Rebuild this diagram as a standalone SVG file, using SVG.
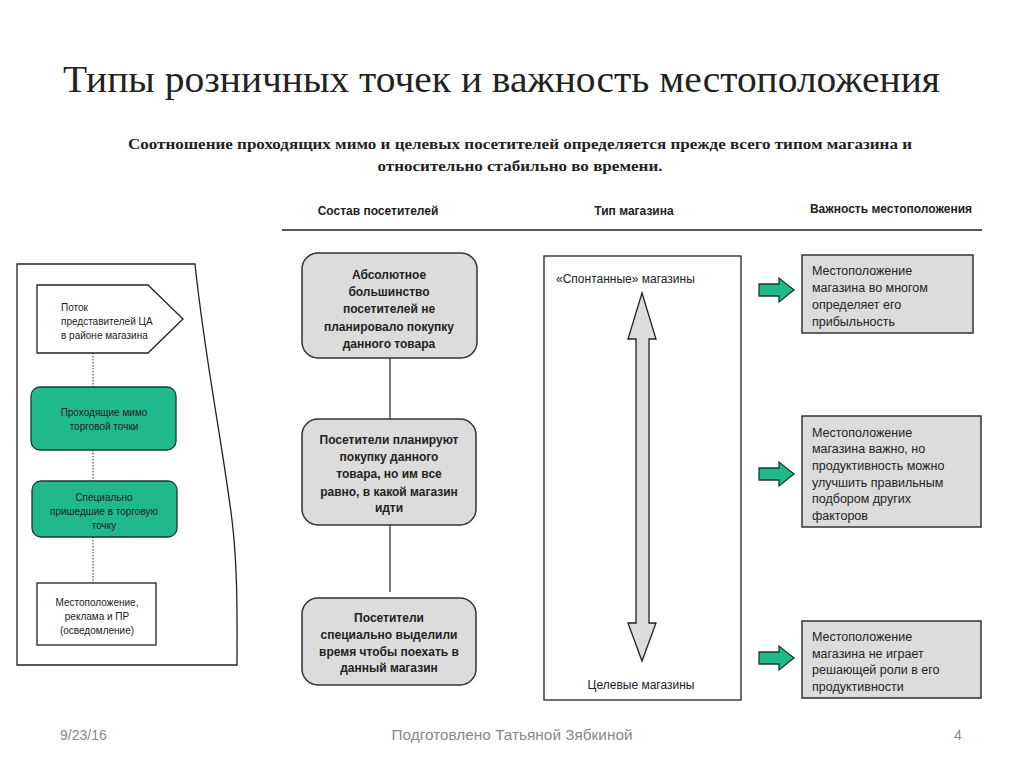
<svg xmlns="http://www.w3.org/2000/svg" width="1024" height="768" viewBox="0 0 1024 768">
<style>
.t{font-family:"Liberation Sans","DejaVu Sans",sans-serif;fill:#222}
.s10{font-size:10px}
.s12{font-size:12px}
.r12{font-size:12.5px}
.b{font-weight:bold}
.c{text-anchor:middle}
.green{fill:#1fb98b;stroke:#1a3a2c;stroke-width:1.3}
.gray{fill:#dcdcdc;stroke:#333;stroke-width:1.5}
.white{fill:#fff;stroke:#222;stroke-width:1.3}
.dot{stroke:#555;stroke-width:1.2;stroke-dasharray:1.5 1.5;fill:none}
.solid{stroke:#333;stroke-width:1.3;fill:none}
.foot{font-family:"Liberation Sans",sans-serif;font-size:14px;fill:#888}
</style>
<defs>
<polygon id="garrow" points="0,-6 20,-6 20,-12 35,0 20,12 20,6 0,6" fill="#1fb98b" stroke="#1a3a2c" stroke-width="1.3"/>
</defs>
<rect width="1024" height="768" fill="#fff"/>
<text x="63" y="92" font-family="Liberation Serif,serif" font-size="37" fill="#222" textLength="877" lengthAdjust="spacingAndGlyphs">Типы розничных точек и важность местоположения</text>
<text class="c" x="520" y="149" font-family="Liberation Serif,serif" font-size="15" font-weight="bold" fill="#222" textLength="784" lengthAdjust="spacingAndGlyphs">Соотношение проходящих мимо и целевых посетителей определяется прежде всего типом магазина и</text>
<text class="c" x="520" y="171" font-family="Liberation Serif,serif" font-size="15" font-weight="bold" fill="#222" textLength="285" lengthAdjust="spacingAndGlyphs">относительно стабильно во времени.</text>

<text class="t s12 b c" x="378" y="215">Состав посетителей</text>
<text class="t s12 b c" x="634" y="215">Тип магазина</text>
<text class="t s12 b c" x="891" y="213">Важность местоположения</text>
<line x1="282" y1="230" x2="982" y2="230" stroke="#222" stroke-width="1.5"/>

<g id="left-panel">
<path d="M17,264 L195,264 C205,360 222,440 232,520 C238,570 237,620 237,665 L17,665 Z" fill="#fff" stroke="#222" stroke-width="1.3"/>
</g>

<g id="connectors">
<line class="dot" x1="93" y1="353" x2="93" y2="387"/>
<line class="dot" x1="93" y1="450" x2="93" y2="481"/>
<line class="dot" x1="93" y1="537" x2="93" y2="583"/>
<line class="solid" x1="390" y1="358" x2="390" y2="419"/>
<line class="solid" x1="390" y1="525" x2="390" y2="592"/>
</g>

<g id="node-flow">
<polygon class="white" points="37,285 148,285 183,319 148,353 37,353"/>
<text class="t s10" x="61" y="311">Поток</text>
<text class="t s10" x="61" y="325">представителей ЦА</text>
<text class="t s10" x="61" y="339">в районе магазина</text>
</g>
<g id="node-passing">
<rect class="green" x="31" y="387" width="145" height="63" rx="9"/>
<text class="t s10 c" x="104" y="416">Проходящие мимо</text>
<text class="t s10 c" x="104" y="430">торговой точки</text>
</g>
<g id="node-special">
<rect class="green" x="32" y="481" width="145" height="56" rx="9"/>
<text class="t s10 c" x="104" y="501">Специально</text>
<text class="t s10 c" x="104" y="515">пришедшие в торговую</text>
<text class="t s10 c" x="104" y="529">точку</text>
</g>
<g id="node-location">
<rect class="white" x="37" y="583" width="119" height="62"/>
<text class="t s10 c" x="97" y="606">Местоположение,</text>
<text class="t s10 c" x="97" y="620">реклама и ПР</text>
<text class="t s10 c" x="97" y="634">(осведомление)</text>
</g>

<g id="node-v1">
<rect class="gray" x="302" y="253" width="175" height="105" rx="16"/>
<text class="t s12 b c" x="389" y="279">Абсолютное</text>
<text class="t s12 b c" x="389" y="296">большинство</text>
<text class="t s12 b c" x="389" y="313">посетителей не</text>
<text class="t s12 b c" x="389" y="331">планировало покупку</text>
<text class="t s12 b c" x="389" y="348">данного товара</text>
</g>
<g id="node-v2">
<rect class="gray" x="302" y="419" width="174" height="106" rx="16"/>
<text class="t s12 b c" x="389" y="444">Посетители планируют</text>
<text class="t s12 b c" x="389" y="461">покупку данного</text>
<text class="t s12 b c" x="389" y="478">товара, но им все</text>
<text class="t s12 b c" x="389" y="496">равно, в какой магазин</text>
<text class="t s12 b c" x="389" y="512">идти</text>
</g>
<g id="node-v3">
<rect class="gray" x="302" y="598" width="174" height="87" rx="16"/>
<text class="t s12 b c" x="389" y="622">Посетители</text>
<text class="t s12 b c" x="389" y="639">специально выделили</text>
<text class="t s12 b c" x="389" y="656">время чтобы поехать в</text>
<text class="t s12 b c" x="389" y="672">данный магазин</text>
</g>

<g id="node-type">
<rect x="544" y="256" width="197" height="444" fill="#fff" stroke="#222" stroke-width="1.3"/>
<text class="t s12" x="556" y="283">«Спонтанные» магазины</text>
<text class="t s12 c" x="641" y="689">Целевые магазины</text>
<polygon points="642,293 656,339 649,339 649,623 656,623 642,661 628,623 636,623 636,339 628,339" fill="#dcdcdc" stroke="#222" stroke-width="1.3"/>
</g>

<g id="arrows">
<use href="#garrow" x="759" y="290"/>
<use href="#garrow" x="759" y="474"/>
<use href="#garrow" x="759" y="658"/>
</g>

<g id="node-i1">
<rect x="802" y="255" width="171" height="78" fill="#dcdcdc" stroke="#333" stroke-width="1.5"/>
<text class="t r12" x="812" y="275">Местоположение</text>
<text class="t r12" x="812" y="292">магазина во многом</text>
<text class="t r12" x="812" y="309">определяет его</text>
<text class="t r12" x="812" y="326">прибыльность</text>
</g>
<g id="node-i2">
<rect x="802" y="416" width="179" height="111" fill="#dcdcdc" stroke="#333" stroke-width="1.5"/>
<text class="t r12" x="812" y="437">Местоположение</text>
<text class="t r12" x="812" y="453">магазина важно, но</text>
<text class="t r12" x="812" y="470">продуктивность можно</text>
<text class="t r12" x="812" y="487">улучшить правильным</text>
<text class="t r12" x="812" y="503">подбором других</text>
<text class="t r12" x="812" y="520">факторов</text>
</g>
<g id="node-i3">
<rect x="802" y="621" width="179" height="77" fill="#dcdcdc" stroke="#333" stroke-width="1.5"/>
<text class="t r12" x="812" y="641">Местоположение</text>
<text class="t r12" x="812" y="658">магазина не играет</text>
<text class="t r12" x="812" y="674">решающей роли в его</text>
<text class="t r12" x="812" y="691">продуктивности</text>
</g>

<text class="foot" x="60" y="740">9/23/16</text>
<text class="foot" x="512" y="740" text-anchor="middle" textLength="241" lengthAdjust="spacingAndGlyphs">Подготовлено Татьяной Зябкиной</text>
<text class="foot" x="958" y="740" text-anchor="middle">4</text>
</svg>
